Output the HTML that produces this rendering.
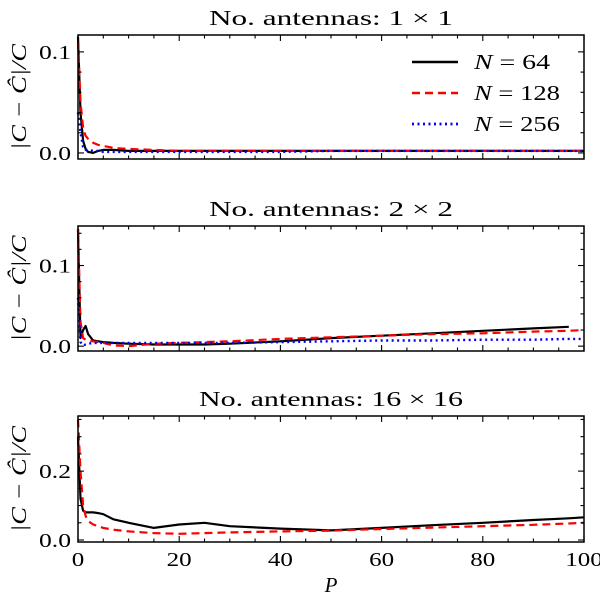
<!DOCTYPE html>
<html><head><meta charset="utf-8"><style>
body{margin:0;background:#fff;}
svg{display:block;font-family:"Liberation Serif",serif;}
</style></head><body>
<svg id="chart" width="600" height="598"></svg>
<script>
const P = [0,0.5,1,1.5,2,3,4,5,7,10,15,20,25,30,40,50,60,70,80,90,97,100];
// panel 1 (1x1)
const p1_N64  = [0.115,0.04,0.012,0.004,0.001,0.0,0.002,0.003,0.003,0.002,0.002,0.002,0.002,0.002,0.002,0.002,0.002,0.002,0.002,0.002,0.002,0.002];
const p1_N128 = [0.11,0.05,0.025,0.017,0.014,0.01,0.008,0.007,0.005,0.004,0.003,0.002,0.002,0.002,0.002,0.002,0.002,0.002,0.002,0.002,0.002,0.002];
const p1_N256 = [0.04,0.02,0.006,0.003,0.003,0.002,0.002,0.001,0.001,0.001,0.001,0.001,0.001,0.001,0.001,0.002,0.002,0.002,0.002,0.002,0.002,0.002];
// panel 2 (2x2)
const p2_N64  = [0.145,0.01,0.02,0.025,0.015,0.007,0.006,0.005,0.004,0.003,0.002,0.002,0.002,0.003,0.006,0.01,0.013,0.016,0.019,0.022,0.024,null];
const p2_N128 = [0.145,0.03,0.01,0.008,0.007,0.006,0.005,0.004,0.001,0.0,0.003,0.004,0.005,0.006,0.009,0.011,0.013,0.015,0.016,0.018,0.019,0.02];
const p2_N256 = [0.06,0.005,0.001,0.002,0.003,0.004,0.004,0.004,0.004,0.004,0.004,0.004,0.004,0.004,0.005,0.006,0.007,0.007,0.008,0.008,0.009,0.009];
// panel 3 (16x16)
const p3_N64  = [0.3,0.12,0.085,0.08,0.08,0.08,0.078,0.075,0.06,0.05,0.035,0.045,0.05,0.04,0.033,0.028,0.035,0.043,0.05,0.058,0.063,0.066];
const p3_N128 = [0.35,0.2,0.1,0.07,0.055,0.045,0.04,0.035,0.03,0.025,0.02,0.018,0.02,0.022,0.025,0.027,0.032,0.036,0.04,0.044,0.048,0.05];
const xTicks = [0,20,40,60,80,100];
const legendLabels = ["64","128","256"];

const svg=document.getElementById('chart');
const NS='http://www.w3.org/2000/svg';
function mk(tag,attrs,parent){const e=document.createElementNS(NS,tag);for(const k in attrs)e.setAttribute(k,attrs[k]);(parent||svg).appendChild(e);return e;}
const X0=78,X1=584;
const xs=v=>X0+(v/100)*(X1-X0);
const styles=[{stroke:'#000',dash:'',w:2.2},{stroke:'#ff0000',dash:'8,5',w:2.2},{stroke:'#0000ff',dash:'2,3.5',w:2.4}];

const panels=[
 {title:'No.  antennas: 1 × 1',tl:244,top:35,bot:159,y0:-0.006,y1:0.1167,major:[0,0.1],minor:0.02,series:[p1_N64,p1_N128,p1_N256],name:'panel-1x1'},
 {title:'No.  antennas: 2 × 2',tl:244,top:226,bot:351,y0:-0.006,y1:0.149,major:[0,0.1],minor:0.02,series:[p2_N64,p2_N128,p2_N256],name:'panel-2x2'},
 {title:'No.  antennas: 16 × 16',tl:264,top:416,bot:542,y0:-0.0058,y1:0.36,major:[0,0.2],minor:0.05,series:[p3_N64,p3_N128],name:'panel-16x16'}
];
panels.forEach((p,pi)=>{
  const g=mk('g',{});
  
  
  const ys=v=>p.bot-(v-p.y0)/(p.y1-p.y0)*(p.bot-p.top);
  const t=mk('text',{x:(X0+X1)/2,y:p.top-10,'text-anchor':'middle','font-size':21,textLength:p.tl,lengthAdjust:'spacingAndGlyphs'},g);t.textContent=p.title;
  
  p.series.forEach((s,si)=>{
    let d='';let started=false;
    s.forEach((v,i)=>{if(v===null)return;d+=(started?'L':'M')+xs(P[i]).toFixed(1)+','+ys(v).toFixed(1);started=true;});
    const st=styles[si];
    const path=mk('path',{d:d,fill:'none',stroke:st.stroke,'stroke-width':st.w,'stroke-dasharray':st.dash,'stroke-linejoin':'round'},g);
    
    
  });
  const fr=mk('rect',{x:X0,y:p.top,width:X1-X0,height:p.bot-p.top,fill:'none',stroke:'#000','stroke-width':1.5},g);
  
  for(let v=0;v<=100;v+=5){
    const maj=v%20===0,L=maj?6:3.5,x=xs(v);
    mk('line',{x1:x,x2:x,y1:p.bot,y2:p.bot-L,stroke:'#000','stroke-width':1.1},g);
    mk('line',{x1:x,x2:x,y1:p.top,y2:p.top+L,stroke:'#000','stroke-width':1.1},g);
  }
  if(pi===2){
    xTicks.forEach(v=>{const s=String(v);const tt=mk('text',{x:xs(v),y:p.bot+24,'text-anchor':'middle','font-size':20,textLength:s.length*12.5,lengthAdjust:'spacingAndGlyphs'},g);tt.textContent=s;
      });
  }
  for(let v=0;v<=p.y1+1e-9;v+=p.minor){
    const maj=p.major.some(m=>Math.abs(m-v)<1e-9),L=maj?6:3.5,y=ys(v);
    mk('line',{x1:X0,x2:X0+L,y1:y,y2:y,stroke:'#000','stroke-width':1.1},g);
    mk('line',{x1:X1,x2:X1-L,y1:y,y2:y,stroke:'#000','stroke-width':1.1},g);
  }
  p.major.forEach(v=>{const tt=mk('text',{x:X0-7,y:ys(v)+7,'text-anchor':'end','font-size':20,textLength:32,lengthAdjust:'spacingAndGlyphs'},g);tt.textContent=v.toFixed(1);
    });
  const yl=mk('text',{x:0,y:0,'text-anchor':'middle','font-size':21,'font-style':'italic',textLength:106,lengthAdjust:'spacingAndGlyphs',transform:`translate(26,${(p.top+p.bot)/2}) rotate(-90)`},g);
  yl.textContent='|C − Ĉ|/C';
  
});
const xl=mk('text',{x:(X0+X1)/2,y:592,'text-anchor':'middle','font-size':21,'font-style':'italic'});
xl.textContent='P';

const lg=mk('g',{});

legendLabels.forEach((lab,i)=>{
  const y=62+i*31,st=styles[i];
  const e=mk('g',{},lg);
  
  mk('line',{x1:412,x2:458,y1:y,y2:y,stroke:st.stroke,'stroke-width':st.w+0.3,'stroke-dasharray':st.dash},e);
  const t=mk('text',{x:474,y:y+7,'font-size':21,textLength:lab.length===2?76:86,lengthAdjust:'spacingAndGlyphs'},e);
  t.innerHTML='<tspan font-style="italic">N</tspan> = '+lab;
});
</script>
</body></html>
